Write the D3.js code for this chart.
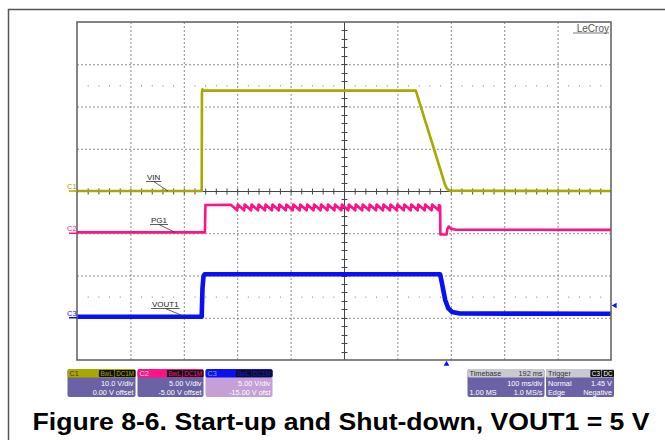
<!DOCTYPE html>
<html><head><meta charset="utf-8">
<script src="https://cdn.jsdelivr.net/npm/d3@7"></script>
<style>body{margin:0;background:#fff}svg{display:block}</style>
</head><body>
<script>
// traces: [time ms from left edge, volts]
const vinTrace=[[0,0],[233.5,0],[234,23.2],[235,24.05],[237,23.75],[634.5,23.75],[689,1.6],[693,0.5],[699,0.05],[1000,0]]
const pg1Trace=[[0,0.1],[239.5,0.1],[240.5,3.35],[288,3.38],
	[300,2.72],[301,3.4],[313,2.72],[314,3.4],[326,2.72],[327,3.4],[339,2.72],[340,3.4],[352,2.72],[353,3.4],
	[365,2.72],[366,3.4],[378,2.72],[379,3.4],[391,2.72],[392,3.4],[404,2.72],[405,3.4],[417,2.72],[418,3.4],
	[430,2.72],[431,3.4],[443,2.72],[444,3.4],[456,2.72],[457,3.4],[469,2.72],[470,3.4],[482,2.72],[483,3.4],
	[495,2.72],[496,3.4],[508,2.72],[509,3.4],[521,2.72],[522,3.4],[534,2.72],[535,3.4],[547,2.72],[548,3.4],
	[560,2.72],[561,3.4],[573,2.72],[574,3.4],[586,2.72],[587,3.4],[599,2.72],[600,3.4],[612,2.72],[613,3.4],
	[625,2.72],[626,3.4],[638,2.72],[639,3.4],[651,2.72],[652,3.4],[664,2.72],[665,3.4],[677,2.72],[678,3.35],
	[680,3.2],[680.5,-0.15],[692,-0.15],[693.5,0.5],[696,0.8],[700,0.55],[710,0.42],[1000,0.4]]
const vout1Trace=[[0,0.12],[233.5,0.12],[235,3.5],[237,4.95],[239,5.15],[680,5.15],[684,3.9],[689.5,2.1],[695,1.15],[702.5,0.68],[717,0.5],[1000,0.47]]

const chNames=["C1","C2","C3"]
const chVdiv=[10,5,5]
const chOffset=[0,-5,-15]
const chColors=["#a8a800","#ff1286","#0a10f5"]
const traceLabels=["VIN","PG1","VOUT1"]
const chBoxLine1=["10.0 V/div","5.00 V/div","5.00 V/div"]
const chBoxLine2=["0.00 V offset","-5.00 V offset","-15.00 V ofst"]
const timebase=["Timebase","192 ms","100 ms/div","1.00 MS","1.0 MS/s"]
const trigger=["Trigger","Normal","1.45 V","Edge","Negative"]
const trigTime=692, trigLevel=1.45
const caption="Figure 8-6. Start-up and Shut-down, VOUT1 = 5 V"

const W=665,H=440
const X0=77,X1=611,Y0=22,Y1=360
const x=d3.scaleLinear().domain([0,1000]).range([X0,X1])
const yd=d3.scaleLinear().domain([-4,4]).range([Y1,Y0])
const ych=(i,v)=>yd((v+chOffset[i])/chVdiv[i])

const svg=d3.select("body").append("svg").attr("width",W).attr("height",H)
	.style("font-family","'Liberation Sans',Arial,sans-serif")

// page border
svg.append("path").attr("d","M8.5,"+H+"V9.5H"+W).attr("fill","none").attr("stroke","#555").attr("stroke-width",1.5)

// grid
const grid=svg.append("g")
grid.selectAll(".vg").data(d3.range(100,1000,100).filter(t=>t!=500)).enter().append("line")
	.attr("x1",d=>x(d)+0.5).attr("x2",d=>x(d)+0.5).attr("y1",Y0).attr("y2",Y1)
	.attr("stroke","#8c8c8c").attr("stroke-dasharray","2,2")
grid.selectAll(".hg").data([-3,-2,-1,1,2,3]).enter().append("line")
	.attr("y1",d=>yd(d)+0.5).attr("y2",d=>yd(d)+0.5).attr("x1",X0).attr("x2",X1)
	.attr("stroke","#8c8c8c").attr("stroke-dasharray","2,2")
// sparse dot rows
for(const r of [2.5,-2.5]){
	grid.selectAll(null).data(d3.range(20,1000,20).filter(t=>t%100!=0)).enter().append("rect")
		.attr("x",d=>x(d)).attr("y",yd(r)).attr("width",1).attr("height",1).attr("fill","#777")
}
// center axes with ticks
grid.append("line").attr("x1",X0).attr("x2",X1).attr("y1",yd(0)+0.5).attr("y2",yd(0)+0.5).attr("stroke","#444")
grid.append("line").attr("x1",x(500)+0.5).attr("x2",x(500)+0.5).attr("y1",Y0).attr("y2",Y1).attr("stroke","#444")
grid.selectAll(null).data(d3.range(20,1000,20)).enter().append("line")
	.attr("x1",d=>x(d)+0.5).attr("x2",d=>x(d)+0.5).attr("y1",yd(0)-2.5).attr("y2",yd(0)+3.5).attr("stroke","#444")
grid.selectAll(null).data(d3.range(-3.8,4,0.2)).enter().append("line")
	.attr("y1",d=>Math.round(yd(d))+0.5).attr("y2",d=>Math.round(yd(d))+0.5).attr("x1",x(500)-2.5).attr("x2",x(500)+3.5).attr("stroke","#444")

// traces
svg.append("clipPath").attr("id","clip").append("rect").attr("x",X0).attr("y",Y0).attr("width",X1-X0).attr("height",Y1-Y0)
const traces=[vinTrace,pg1Trace,vout1Trace]
const widths=[2.6,2.6,4.6]
traces.forEach((tr,i)=>{
	svg.append("path").datum(tr).attr("clip-path","url(#clip)")
		.attr("d",d3.line().x(d=>x(d[0])).y(d=>ych(i,d[1])))
		.attr("fill","none").attr("stroke",chColors[i]).attr("stroke-width",widths[i]).attr("stroke-linejoin","round")
})

// frame
svg.append("rect").attr("x",X0).attr("y",Y0).attr("width",X1-X0).attr("height",Y1-Y0)
	.attr("fill","none").attr("stroke","#666").attr("stroke-width",1.6)

// channel markers at the left
chNames.forEach((c,i)=>{
	const gy=ych(i,0)
	svg.append("line").attr("x1",69).attr("x2",X0).attr("y1",gy).attr("y2",gy).attr("stroke",chColors[i]).attr("stroke-width",1.5)
	svg.append("text").attr("x",67).attr("y",gy-2).text(c).attr("font-size",7.5).attr("fill",chColors[i])
})

// trace labels with leader lines
const labPos=[[147,179.5,168],[151,222.5,175],[152,306.5,185]]
traceLabels.forEach((t,i)=>{
	const p=labPos[i]
	const tx=svg.append("text").attr("x",p[0]).attr("y",p[1]).text(t).attr("font-size",8).attr("fill","#222")
	const w=tx.node().getComputedTextLength()
	svg.append("line").attr("x1",p[0]-1).attr("x2",p[0]+w+1).attr("y1",p[1]+2).attr("y2",p[1]+2).attr("stroke","#333").attr("stroke-width",0.8)
	svg.append("line").attr("x1",p[0]+w/2).attr("y1",p[1]+2).attr("x2",p[2]).attr("y2",ych(i,traces[i][0][1])).attr("stroke","#333").attr("stroke-width",0.8)
})

// LeCroy logo
const lc=svg.append("text").attr("x",609).attr("y",31.5).attr("text-anchor","end").text("LeCroy")
	.attr("font-size",10).attr("fill","#555")
svg.append("line").attr("x1",573).attr("x2",609).attr("y1",33).attr("y2",33).attr("stroke","#555").attr("stroke-width",0.8)

// trigger markers
svg.append("path").attr("d",d3.symbol(d3.symbolTriangle,14)).attr("transform","translate("+x(trigTime)+",364)")
	.attr("fill",chColors[2])
svg.append("path").attr("d",d3.symbol(d3.symbolTriangle,14)).attr("transform","translate(615,"+ych(2,trigLevel)+") rotate(-90)")
	.attr("fill",chColors[2])

// info boxes
const BY=369,BH=28,HH=8.5
const fs=7.3
function badge(g,xr,label,col){
	const t=g.append("text").attr("x",xr-1).attr("y",BY+7).attr("text-anchor","end").text(label).attr("font-size",6.3).attr("fill",col)
	const w=t.node().getComputedTextLength()
	g.insert("rect","text").attr("x",xr-w-2.5).attr("y",BY+1).attr("width",w+3).attr("height",HH-1.5).attr("fill","#111").attr("rx",1)
	return xr-w-3.5
}
const boxX=[[67.5,68],[137.5,66],[205.5,67]]
const bodyCols=["#6b61a5","#6b61a5","#c4a0d6"]
const hdrText=["#40400a","#ffe0f0","#8fa0ff"]
chNames.forEach((c,i)=>{
	const bx=boxX[i][0],bw=boxX[i][1]
	const g=svg.append("g")
	g.append("rect").attr("x",bx).attr("y",BY).attr("width",bw).attr("height",BH).attr("rx",2).attr("fill",bodyCols[i])
	g.append("rect").attr("x",bx).attr("y",BY).attr("width",bw).attr("height",HH).attr("rx",2).attr("fill",chColors[i])
	g.append("text").attr("x",bx+2).attr("y",BY+7).text(c).attr("font-size",fs).attr("fill",hdrText[i])
	let xr=badge(g,bx+bw-0.5,"DC1M",chColors[i])
	badge(g,xr,"BwL",chColors[i])
	g.append("text").attr("x",bx+bw-2).attr("y",BY+17).attr("text-anchor","end").text(chBoxLine1[i]).attr("font-size",fs).attr("fill","#fff")
	g.append("text").attr("x",bx+bw-2).attr("y",BY+25.5).attr("text-anchor","end").text(chBoxLine2[i]).attr("font-size",fs).attr("fill","#fff")
})
function infoBox(bx,bw,hl,hr,l1l,l1r,l2l,l2r){
	const g=svg.append("g")
	g.append("rect").attr("x",bx).attr("y",BY).attr("width",bw).attr("height",BH).attr("rx",2).attr("fill","#6b61a5")
	g.append("rect").attr("x",bx).attr("y",BY).attr("width",bw).attr("height",HH).attr("rx",2).attr("fill","#c9c9d2")
	g.append("text").attr("x",bx+2).attr("y",BY+7).text(hl).attr("font-size",fs).attr("fill","#333")
	if(hr) g.append("text").attr("x",bx+bw-2).attr("y",BY+7).attr("text-anchor","end").text(hr).attr("font-size",fs).attr("fill","#333")
	if(l1l) g.append("text").attr("x",bx+2).attr("y",BY+17).text(l1l).attr("font-size",fs).attr("fill","#fff")
	g.append("text").attr("x",bx+bw-2).attr("y",BY+17).attr("text-anchor","end").text(l1r).attr("font-size",fs).attr("fill","#fff")
	g.append("text").attr("x",bx+2).attr("y",BY+25.5).text(l2l).attr("font-size",fs).attr("fill","#fff")
	g.append("text").attr("x",bx+bw-2).attr("y",BY+25.5).attr("text-anchor","end").text(l2r).attr("font-size",fs).attr("fill","#fff")
	return g
}
infoBox(467.5,77,timebase[0],timebase[1],null,timebase[2],timebase[3],timebase[4])
const tg=infoBox(546,68,trigger[0],null,trigger[1],trigger[2],trigger[3],trigger[4])
let xr=badge(tg,613.5,"DC","#fff")
badge(tg,xr,"C3","#fff")

// caption
svg.append("text").attr("x",341).attr("y",429.5).attr("text-anchor","middle").text(caption)
	.attr("font-size",24).attr("font-weight","bold").attr("fill","#000")
	.attr("textLength",617).attr("lengthAdjust","spacingAndGlyphs")
</script>
</body></html>
